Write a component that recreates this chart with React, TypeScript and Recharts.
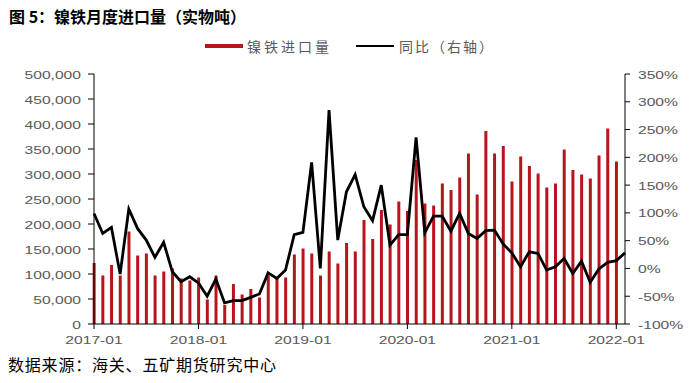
import React from "react";
import { ComposedChart, Bar, Line, XAxis, YAxis } from "recharts";

const months: string[] = [];
for (let y = 2017; y <= 2022; y++) {
  for (let m = 1; m <= 12; m++) {
    if (y === 2022 && m > 2) break;
    months.push(`${y}-${m < 10 ? "0" + m : m}`);
  }
}

const importVolume: (number | null)[] = [
  122000, 97000, 118000, 97000, 185000, 137000, 141000, 97000, 105000, 111000, 91000, 87000,
  93000, 49000, 97000, 38000, 80000, 59000, 70000, 53000, 97000, 91000, 93000, 139000,
  151000, 141000, 97000, 145000, 121000, 162000, 145000, 208000, 170000, 228000, 199000, 245000,
  226000, 328000, 241000, 237000, 281000, 268000, 293000, 341000, 259000, 386000, 341000, 356000,
  285000, 335000, 316000, 301000, 273000, 281000, 349000, 308000, 299000, 291000, 337000, 391000,
  325000, null,
];

const yoyPct: number[] = [
  99, 63, 74, -10, 107, 72, 51, 20, 47, -6, -24, -15,
  -26, -50, -19, -62, -58, -58, -52, -46, -8, -18, -3, 61,
  65, 191, 0, 285, 51, 138, 169, 111, 86, 150, 42, 61,
  61, 236, 64, 94, 94, 67, 99, 63, 54, 68, 69, 44,
  28, 3, 30, 27, -3, 3, 18, -9, 13, -25, -1, 11,
  14, 28,
];

const xTickIndex = [0, 12, 24, 36, 48, 60];
const leftTicks = [0, 50000, 100000, 150000, 200000, 250000, 300000, 350000, 400000, 450000, 500000];
const rightTicks = [-100, -50, 0, 50, 100, 150, 200, 250, 300, 350];

const data = months.map((m, i) => ({
  i,
  month: m,
  vol: importVolume[i],
  yoy: yoyPct[i],
}));

const LABEL_COLOR = "#595959";
const BAR_COLOR = "#B8141C";
const NUM_FONT = "'Liberation Sans', Arial, sans-serif";
const CJK_FONT = "'Noto Sans CJK SC', 'Noto Sans', sans-serif";

const fmtThousands = (v: number) =>
  v === 0 ? "0" : String(v).replace(/\B(?=(\d{3})+(?!\d))/g, ",");

const LeftTick = (props: any) => {
  const { x, y, payload } = props;
  return (
    <text
      x={0}
      y={0}
      transform={`translate(${x - 5},${y + 4.5}) scale(1.42,1)`}
      textAnchor="end"
      fontSize={11}
      fill={LABEL_COLOR}
      fontFamily={NUM_FONT}
    >
      {fmtThousands(payload.value)}
    </text>
  );
};

const RightTick = (props: any) => {
  const { x, y, payload } = props;
  return (
    <text
      x={0}
      y={0}
      transform={`translate(${x + 6},${y + 4.5}) scale(1.42,1)`}
      textAnchor="start"
      fontSize={11}
      fill={LABEL_COLOR}
      fontFamily={NUM_FONT}
    >
      {`${payload.value}%`}
    </text>
  );
};

const BottomTick = (props: any) => {
  const { x, y, payload } = props;
  return (
    <text
      x={0}
      y={0}
      transform={`translate(${x},${y + 12.5}) scale(1.42,1)`}
      textAnchor="middle"
      fontSize={11}
      fill={LABEL_COLOR}
      fontFamily={NUM_FONT}
    >
      {months[payload.value]}
    </text>
  );
};

export default function App() {
  return (
    <div style={{ position: "relative", width: 691, height: 383, background: "#fff" }}>
      <style>{`body{margin:0;background:#fff}`}</style>
      <div
        style={{
          position: "absolute",
          left: 9,
          top: 8,
          fontSize: 16,
          lineHeight: "16px",
          fontWeight: 700,
          fontFamily: CJK_FONT,
          color: "#000",
          whiteSpace: "nowrap",
        }}
      >
        图 5：镍铁月度进口量（实物吨）
      </div>
      <div
        style={{
          position: "absolute",
          left: 205,
          top: 38,
          height: 16,
          display: "flex",
          alignItems: "center",
          fontSize: 14,
          fontFamily: CJK_FONT,
          color: LABEL_COLOR,
          whiteSpace: "nowrap",
        }}
      >
        <span style={{ display: "inline-block", width: 38, height: 4, background: BAR_COLOR, marginRight: 4 }} />
        <span style={{ letterSpacing: 3 }}>镍铁进口量</span>
        <span style={{ display: "inline-block", width: 38, height: 1.6, background: "#000", marginLeft: 24, marginRight: 5 }} />
        <span style={{ letterSpacing: 2 }}>同比（右轴）</span>
      </div>
      <div
        style={{
          position: "absolute",
          left: 8,
          top: 356,
          fontSize: 16,
          lineHeight: "16px",
          fontFamily: CJK_FONT,
          color: "#000",
          letterSpacing: 0.8,
          whiteSpace: "nowrap",
        }}
      >
        数据来源：海关、五矿期货研究中心
      </div>
      <ComposedChart
        width={691}
        height={383}
        data={data}
        margin={{ top: 74, right: 0, bottom: 0, left: 0 }}
      >
        <XAxis
          dataKey="i"
          type="number"
          domain={[0, 61]}
          ticks={xTickIndex}
          tick={<BottomTick />}
          tickSize={5}
          height={59}
          axisLine={{ stroke: "#000", strokeWidth: 1 }}
          tickLine={{ stroke: "#000" }}
          allowDecimals={false}
          interval={0}
        />
        <YAxis
          yAxisId="left"
          orientation="left"
          width={94}
          domain={[0, 500000]}
          ticks={leftTicks}
          tick={<LeftTick />}
          tickSize={6}
          axisLine={{ stroke: "#000", strokeWidth: 1 }}
          tickLine={{ stroke: "#000" }}
          interval={0}
        />
        <YAxis
          yAxisId="right"
          orientation="right"
          width={66}
          domain={[-100, 350]}
          ticks={rightTicks}
          tick={<RightTick />}
          tickSize={5}
          axisLine={{ stroke: "#000", strokeWidth: 1 }}
          tickLine={{ stroke: "#000" }}
          interval={0}
        />
        <Bar
          yAxisId="left"
          dataKey="vol"
          fill={BAR_COLOR}
          barSize={3}
          isAnimationActive={false}
        />
        <Line
          yAxisId="right"
          dataKey="yoy"
          stroke="#000"
          strokeWidth={2.8}
          dot={false}
          activeDot={false}
          type="linear"
          isAnimationActive={false}
        />
      </ComposedChart>
    </div>
  );
}
